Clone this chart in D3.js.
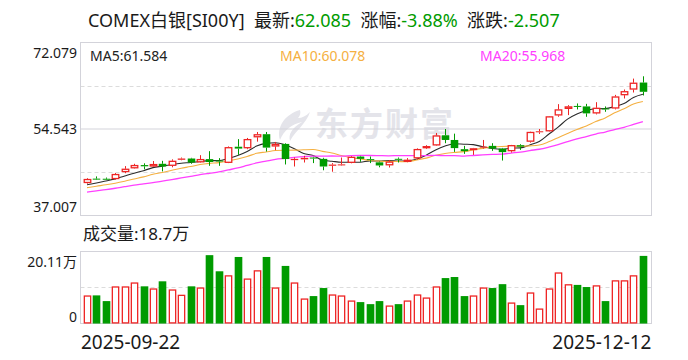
<!DOCTYPE html>
<html>
<head>
<meta charset="utf-8">
<script src="https://cdn.jsdelivr.net/npm/d3@7"></script>
<style>
  html, body { margin: 0; padding: 0; background: #fff; }
  svg { display: block; font-family: "Noto Sans", "Noto Sans CJK SC", sans-serif; }
</style>
</head>
<body>
<svg id="chart"></svg>
<script>
// trading days 2025-09-22 .. 2025-12-12
const dates = [
  '2025-09-22','2025-09-23','2025-09-24','2025-09-25','2025-09-26','2025-09-29','2025-09-30',
  '2025-10-01','2025-10-02','2025-10-03','2025-10-06','2025-10-07','2025-10-08','2025-10-09','2025-10-10',
  '2025-10-13','2025-10-14','2025-10-15','2025-10-16','2025-10-17','2025-10-20','2025-10-21','2025-10-22',
  '2025-10-23','2025-10-24','2025-10-27','2025-10-28','2025-10-29','2025-10-30','2025-10-31',
  '2025-11-03','2025-11-04','2025-11-05','2025-11-06','2025-11-07','2025-11-10','2025-11-11','2025-11-12',
  '2025-11-13','2025-11-14','2025-11-17','2025-11-18','2025-11-19','2025-11-20','2025-11-21','2025-11-24',
  '2025-11-25','2025-11-26','2025-11-27','2025-11-28',
  '2025-12-01','2025-12-02','2025-12-03','2025-12-04','2025-12-05','2025-12-08','2025-12-09','2025-12-10',
  '2025-12-11','2025-12-12'
];

const opens = [43.60,44.48,44.46,44.40,45.81,46.58,47.23,46.94,47.49,47.09,
  48.30,48.56,47.79,48.44,48.15,47.69,50.95,50.65,52.87,53.49,
  51.01,51.52,48.23,48.39,48.76,48.49,47.09,47.23,47.69,48.96,
  48.43,47.79,47.19,48.50,47.89,48.60,50.65,51.22,53.27,52.32,
  50.45,50.25,50.79,51.12,50.57,50.05,51.26,51.98,53.88,54.08,
  57.30,58.63,59.22,59.12,57.71,58.71,58.71,61.40,62.55,63.96];
const highs = [44.56,44.93,44.70,45.61,47.02,47.49,47.59,48.05,48.09,48.39,
  48.76,48.70,49.24,50.05,48.64,51.01,52.49,52.73,53.94,53.94,
  51.92,51.66,48.76,49.10,48.90,48.70,47.63,48.76,49.06,49.10,
  48.96,47.95,48.23,48.76,48.64,50.61,51.26,53.74,54.54,53.60,
  51.12,50.71,52.32,51.66,50.71,51.32,51.46,54.00,54.54,57.16,
  59.58,59.38,59.72,59.64,59.98,59.12,61.46,62.55,64.76,65.23];
const lows = [43.46,44.20,44.20,44.30,45.58,46.50,46.38,46.85,45.94,46.78,
  48.20,47.49,47.70,47.08,47.08,47.63,49.30,50.45,51.98,49.97,
  50.25,47.35,46.94,47.75,47.63,46.18,45.88,47.09,47.59,47.89,
  47.63,46.78,46.74,47.75,47.80,48.35,50.50,51.12,51.66,49.90,
  49.50,49.30,50.57,50.11,48.15,49.77,50.31,51.78,53.54,54.00,
  57.02,57.36,58.51,57.02,57.50,58.03,58.51,60.73,61.94,61.34];
const closes = [44.40,44.40,44.38,45.41,46.48,47.23,46.98,47.43,46.94,48.09,
  48.56,47.75,48.44,47.85,48.05,50.85,50.57,52.49,53.47,50.77,
  51.52,48.45,48.49,48.70,48.60,46.94,47.33,47.37,48.90,48.49,
  48.35,47.15,47.93,48.40,48.30,50.47,51.06,53.23,52.32,50.67,
  50.05,50.65,50.97,50.57,49.85,51.26,50.97,53.94,54.08,57.10,
  58.51,59.12,59.12,57.71,58.84,58.59,61.13,62.20,63.92,62.085];
// volume in 万
const volumes = [7.67,7.67,6.07,10.2,10.2,11.3,10.2,9.63,11.6,9.35,
  7.86,10.2,9.9,18.9,14.4,13.3,18.4,12.4,14.7,18.4,
  9.9,15.9,11.3,6.82,7.47,9.72,7.95,7.67,6.26,5.79,
  5.22,6.07,4.86,5.22,6.26,7.95,7.1,10.2,12.5,12.8,
  7.47,7.67,9.9,9.72,10.8,5.7,4.94,8.51,4.02,9.63,
  14.1,10.8,10.6,10.0,10.5,6.07,11.9,11.9,13.3,18.7];
// closes before the window (only used to start the MA lines)
const priorCloses = [39.5,39.6,39.8,40.0,41.0,41.9,42.0,41.5,41.8,41.7,
  41.4,41.6,42.1,42.5,42.8,42.6,42.2,43.3,43.6];

const priceTicks = [72.079, 54.543, 37.007];
const volMax = 20.11;
const volTickLabels = ['20.11万', '0'];
const maLabels = ['MA5:61.584', 'MA10:60.078', 'MA20:55.968'];
const title = [['COMEX白银[SI00Y]  最新:', 'dark'], ['62.085', 'green'], ['  涨幅:', 'dark'],
  ['-3.88%', 'green'], ['  涨跌:', 'dark'], ['-2.507', 'green']];
const volLabel = '成交量:18.7万';

const RED = '#ee2424', GREEN = '#009b00', GRID = '#d3d3da', TXT = '#1a1a1a';

const W = 688, H = 360;
const box = { left: 80.5, right: 651.5, top: 42.5, bottom: 215.5 };
const vbox = { top: 251.5, bottom: 323.5 };

const svg = d3.select('#chart').attr('width', W).attr('height', H);

const x = d3.scaleBand().domain(dates).range([82.3, 647.6]).paddingInner(0.2).paddingOuter(0.1);
const y = d3.scaleLinear().domain([37.007, 72.079]).range([box.bottom, box.top]);
const yv = d3.scaleLinear().domain([0, volMax]).range([vbox.bottom, vbox.top]);
const bw = x.bandwidth();
const cx = d => x(d) + bw / 2;

// title
const t = svg.append('text').attr('x', 88).attr('y', 27).attr('font-size', 18).attr('xml:space', 'preserve');
title.forEach(([s, c]) => t.append('tspan').text(s).attr('fill', c === 'green' ? GREEN : TXT));

// watermark
const wm = svg.append('g').attr('fill', '#e4e4ea');
wm.append('path').attr('d', 'M300,110 C286,114 276,126 280,140 C284,130 292,124 302,122 C292,128 288,134 290,141 C296,130 306,124 310,112 C306,116 302,118 298,118 C300,116 301,113 300,110 Z');
wm.append('text').attr('x', 315).attr('y', 136).attr('font-size', 33).attr('font-weight', 'bold')
  .attr('letter-spacing', 2).attr('font-family', '"Noto Sans CJK SC", sans-serif').text('东方财富');

// price grid
const grid = svg.append('g');
[0.25, 0.75].forEach(f => {
  const gy = Math.round(box.top + (box.bottom - box.top) * f) + 0.5;
  grid.append('line').attr('x1', box.left).attr('x2', box.right).attr('y1', gy).attr('y2', gy)
    .attr('stroke', '#dcdcdc').attr('stroke-dasharray', '4,3');
});
grid.append('line').attr('x1', box.left).attr('x2', box.right)
  .attr('y1', y(priceTicks[1])).attr('y2', y(priceTicks[1])).attr('stroke', GRID);
grid.append('rect').attr('x', box.left).attr('y', box.top)
  .attr('width', box.right - box.left).attr('height', box.bottom - box.top)
  .attr('fill', 'none').attr('stroke', GRID);

// price labels
const dys = [10, 0, -9];
svg.append('g').selectAll('text').data(priceTicks).join('text')
  .attr('x', 77).attr('y', d => y(d)).attr('dy', (d, i) => dys[i] + 5)
  .attr('text-anchor', 'end').attr('font-size', 14).attr('fill', TXT)
  .text(d => d.toFixed(3));

// MA lines
const all = priorCloses.concat(closes);
const ma = n => closes.map((c, i) => {
  const j = i + priorCloses.length;
  return d3.mean(all.slice(j - n + 1, j + 1));
});
const maSeries = [[ma(5), '#2b2b2b', 1.1], [ma(10), '#f5b041', 1.1], [ma(20), '#ff40ff', 1.3]];
const line = d3.line().x((d, i) => cx(dates[i])).y(d => y(d)).curve(d3.curveMonotoneX);
maSeries.forEach(([vals, col, w]) => {
  svg.append('path').datum(vals).attr('d', line).attr('fill', 'none')
    .attr('stroke', col).attr('stroke-width', w);
});

// candles
const candles = dates.map((d, i) => ({ d, o: opens[i], h: highs[i], l: lows[i], c: closes[i], v: volumes[i] }));
const cg = svg.append('g').selectAll('g').data(candles).join('g');
cg.each(function (k) {
  const g = d3.select(this);
  const up = k.c >= k.o;
  const col = up ? RED : GREEN;
  const xm = Math.round(cx(k.d)) + 0.5;
  const top = y(Math.max(k.o, k.c)), bot = y(Math.min(k.o, k.c));
  const hgt = Math.max(bot - top, 1);
  g.append('line').attr('x1', xm).attr('x2', xm).attr('y1', y(k.h)).attr('y2', top).attr('stroke', col);
  g.append('line').attr('x1', xm).attr('x2', xm).attr('y1', top + hgt).attr('y2', y(k.l)).attr('stroke', col);
  if (up && hgt > 2) {
    g.append('rect').attr('x', xm - bw / 2 + 0.5).attr('y', top + 0.5)
      .attr('width', bw - 1).attr('height', hgt - 1)
      .attr('fill', '#fff').attr('stroke', col).attr('stroke-width', 1.3);
  } else {
    g.append('rect').attr('x', xm - bw / 2).attr('y', top)
      .attr('width', bw).attr('height', hgt).attr('fill', col);
  }
});

// MA labels
const maX = [90, 280, 480];
const maCol = ['#222', '#f5b041', '#ff40ff'];
svg.append('g').selectAll('text').data(maLabels).join('text')
  .attr('x', (d, i) => maX[i]).attr('y', 61).attr('font-size', 14)
  .attr('fill', (d, i) => maCol[i]).text(d => d);

// volume panel
svg.append('text').attr('x', 83).attr('y', 240).attr('font-size', 17).attr('fill', TXT).text(volLabel);
svg.append('line').attr('x1', box.left).attr('x2', box.right)
  .attr('y1', yv(volMax / 2)).attr('y2', yv(volMax / 2))
  .attr('stroke', '#dcdcdc').attr('stroke-dasharray', '4,3');
svg.append('rect').attr('x', box.left).attr('y', vbox.top)
  .attr('width', box.right - box.left).attr('height', vbox.bottom - vbox.top)
  .attr('fill', 'none').attr('stroke', GRID);

svg.append('g').selectAll('rect').data(candles).join('rect')
  .attr('x', k => Math.round(cx(k.d)) + 0.5 - bw / 2 + 0.6)
  .attr('y', k => yv(k.v))
  .attr('width', bw - 1.2)
  .attr('height', k => yv(0) - yv(k.v) - 0.6)
  .attr('fill', k => k.c >= k.o ? '#fff' : GREEN)
  .attr('stroke', k => k.c >= k.o ? RED : GREEN)
  .attr('stroke-width', 1.3);

svg.append('text').attr('x', 77).attr('y', vbox.top + 15).attr('text-anchor', 'end')
  .attr('font-size', 14).attr('fill', TXT).text(volTickLabels[0]);
svg.append('text').attr('x', 77).attr('y', vbox.bottom - 2).attr('text-anchor', 'end')
  .attr('font-size', 14).attr('fill', TXT).text(volTickLabels[1]);

// date labels
svg.append('text').attr('x', 81).attr('y', 349).attr('font-size', 19).attr('fill', TXT).text(dates[0]);
svg.append('text').attr('x', box.right).attr('y', 349).attr('text-anchor', 'end')
  .attr('font-size', 19).attr('fill', TXT).text(dates[dates.length - 1]);
</script>
</body>
</html>
